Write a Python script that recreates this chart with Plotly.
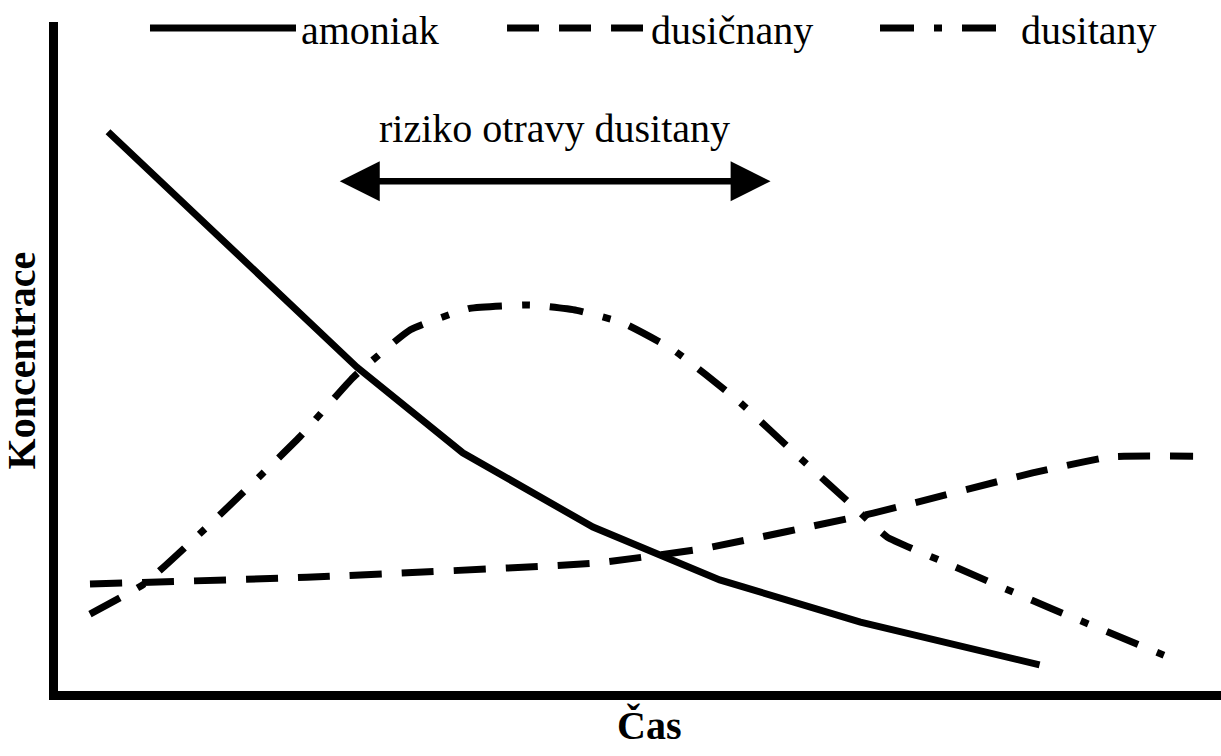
import plotly.graph_objects as go

# Time (arbitrary units) and concentration (arbitrary units)
amoniak_x = [4.3, 25.7, 34.8, 46.0, 56.9, 69.0, 84.4]
amoniak_y = [83.6, 48.4, 35.6, 24.5, 16.6, 10.3, 3.9]

dusicnany_x = [2.75, 21.4, 46.0, 55.2, 70.1, 83.8, 90.5, 97.6]
dusicnany_y = [16.0, 17.0, 19.1, 21.2, 26.6, 32.6, 35.0, 35.1]

dusitany_x = [2.75, 7.48, 13.9, 20.8, 25.4, 30.3, 35.4, 40.6, 44.6, 48.6, 52.9,
              58.4, 63.5, 68.7, 71.3, 76.4, 85.3, 96.7]
dusitany_y = [11.5, 16.1, 26.3, 38.0, 46.9, 54.0, 57.2, 57.7, 56.9, 55.0, 51.0,
              43.5, 35.3, 27.1, 23.0, 19.1, 12.4, 4.2]

names = ["amoniak", "dusičnany", "dusitany"]
risk_label = "riziko otravy dusitany"
risk_start, risk_end, risk_level = 24.1, 61.27, 76.2
x_title = "Čas"
y_title = "Koncentrace"

FONT = "Liberation Serif"

fig = go.Figure()
fig.add_trace(go.Scatter(x=amoniak_x, y=amoniak_y, mode="lines", name=names[0],
                         legend="legend",
                         line=dict(color="black", width=7, dash="solid")))
fig.add_trace(go.Scatter(x=dusicnany_x, y=dusicnany_y, mode="lines", name=names[1],
                         legend="legend2",
                         line=dict(color="black", width=7, dash="32px,20px",
                                   shape="spline", smoothing=0.4)))
fig.add_trace(go.Scatter(x=dusitany_x, y=dusitany_y, mode="lines", name=names[2],
                         legend="legend3",
                         line=dict(color="black", width=7, dash="34px,20px,8px,20px",
                                   shape="spline", smoothing=0.4)))

# double arrow
fig.add_annotation(x=risk_end, y=risk_level, ax=risk_start, ay=risk_level,
                   xref="x", yref="y", axref="x", ayref="y", text="",
                   showarrow=True, arrowside="end+start", arrowhead=2,
                   startarrowhead=2, arrowwidth=6.5, arrowsize=1.23,
                   startarrowsize=1.23, arrowcolor="black")
fig.add_annotation(x=(risk_start + risk_end) / 2, y=84.1, xref="x", yref="y",
                   text=risk_label, showarrow=False, xanchor="center", yanchor="middle",
                   font=dict(family=FONT, size=40, color="black"))
fig.add_annotation(x=-0.031, y=0.494, xref="paper", yref="paper", text="<b>%s</b>" % y_title,
                   textangle=-90, showarrow=False, xanchor="center", yanchor="middle",
                   font=dict(family=FONT, size=40, color="black"))
fig.add_annotation(x=0.508, y=-0.052, xref="paper", yref="paper", text="<b>%s</b>" % x_title,
                   showarrow=False, xanchor="center", yanchor="middle",
                   font=dict(family=FONT, size=40, color="black"))

def legend_style(xpos, iw):
    return dict(orientation="h", x=xpos, xanchor="left", y=0.991, yanchor="middle",
                yref="paper", itemwidth=iw, bgcolor="rgba(0,0,0,0)",
                font=dict(family=FONT, size=40, color="black"))

fig.update_layout(
    width=1221, height=756,
    margin=dict(l=58, r=0, t=22, b=65, autoexpand=False),
    paper_bgcolor="white", plot_bgcolor="white",
    showlegend=True,
    legend=legend_style(0.0748, 146),
    legend2=legend_style(0.3818, 139),
    legend3=legend_style(0.7025, 136),
    xaxis=dict(range=[0, 100], showgrid=False, zeroline=False, showticklabels=False,
               ticks="", showline=True, linecolor="black", linewidth=9, automargin=False),
    yaxis=dict(range=[0, 100], showgrid=False, zeroline=False, showticklabels=False,
               ticks="", showline=True, linecolor="black", linewidth=9, automargin=False),
)

fig.write_html("out.html", config={"displayModeBar": False},
               post_script="document.body.style.margin='0';")
